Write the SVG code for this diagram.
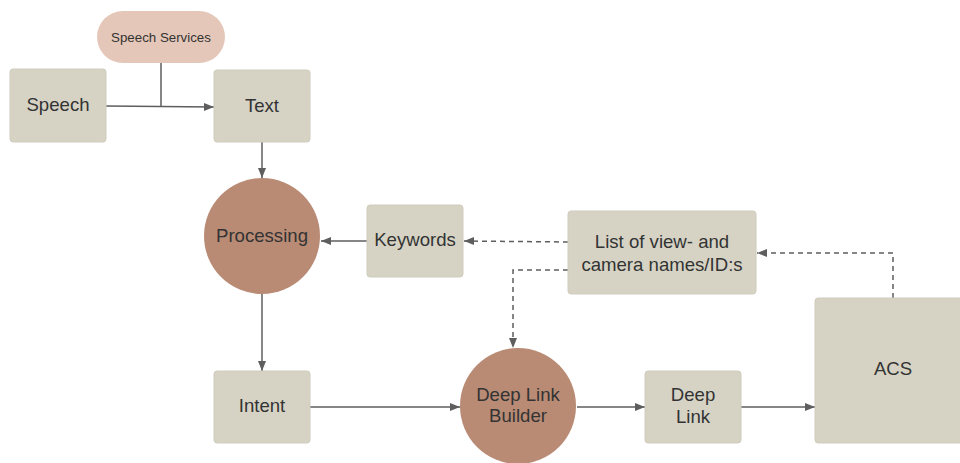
<svg xmlns="http://www.w3.org/2000/svg" width="960" height="463" viewBox="0 0 960 463">
  <defs>
    <marker id="arrow" viewBox="0 0 10 10" refX="10" refY="5" markerWidth="10" markerHeight="10" markerUnits="userSpaceOnUse" orient="auto">
      <path d="M0,1 L10,5 L0,9 Z" fill="#5e5e5e"/>
    </marker>
  </defs>
  <style>
    .box { fill: #d6d3c5; stroke: #cfccbd; stroke-width: 1; }
    .circle { fill: #b98b75; }
    .pill { fill: #e4c7b8; }
    .label { font-family: "Liberation Sans", Arial, sans-serif; font-size: 18.6px; fill: #333333; text-anchor: middle; dominant-baseline: central; }
    .small { font-size: 13.3px; }
    .edge { fill: none; stroke: #5e5e5e; stroke-width: 1.5; }
    .dashed { stroke-dasharray: 5 4; }
  </style>
  <rect width="960" height="463" fill="#ffffff"/>

  <!-- connectors -->
  <g id="connectors">
    <path class="edge" d="M106,106 L214,107" marker-end="url(#arrow)"/>
    <path class="edge" d="M161,63 L161,106"/>
    <path class="edge" d="M262,142 L262,178" marker-end="url(#arrow)"/>
    <path class="edge" d="M367,241 L321,241" marker-end="url(#arrow)"/>
    <path class="edge" d="M262,294 L262,371" marker-end="url(#arrow)"/>
    <path class="edge" d="M310,407 L460,407" marker-end="url(#arrow)"/>
    <path class="edge" d="M577,407 L645,407" marker-end="url(#arrow)"/>
    <path class="edge" d="M741,407 L815,407" marker-end="url(#arrow)"/>
    <path class="edge dashed" d="M568,242 L464,241" marker-end="url(#arrow)"/>
    <path class="edge dashed" d="M568,270 L513,270 L513,348" marker-end="url(#arrow)"/>
    <path class="edge dashed" d="M893,298 L893,253 L757,253" marker-end="url(#arrow)"/>
  </g>

  <g id="speech-services">
    <rect class="pill" x="97" y="11" width="128" height="52" rx="26"/>
    <text class="label small" x="161" y="37">Speech Services</text>
  </g>
  <g id="speech">
    <rect class="box" x="10" y="69" width="96" height="73" rx="3"/>
    <text class="label" x="58" y="104">Speech</text>
  </g>
  <g id="text">
    <rect class="box" x="214" y="70" width="96" height="72" rx="3"/>
    <text class="label" x="262" y="105">Text</text>
  </g>
  <g id="processing">
    <circle class="circle" cx="262" cy="236" r="58"/>
    <text class="label" x="262" y="235">Processing</text>
  </g>
  <g id="keywords">
    <rect class="box" x="367" y="205" width="96" height="72" rx="3"/>
    <text class="label" x="415" y="239">Keywords</text>
  </g>
  <g id="view-list">
    <rect class="box" x="568" y="211" width="188" height="83" rx="3"/>
    <text class="label" x="662" y="241">List of view- and</text>
    <text class="label" x="662" y="264">camera names/ID:s</text>
  </g>
  <g id="acs">
    <rect class="box" x="815" y="298" width="150" height="145" rx="3"/>
    <text class="label" x="893" y="368">ACS</text>
  </g>
  <g id="intent">
    <rect class="box" x="214" y="371" width="96" height="72" rx="3"/>
    <text class="label" x="262" y="405">Intent</text>
  </g>
  <g id="deep-link-builder">
    <circle class="circle" cx="518" cy="406" r="58"/>
    <text class="label" x="518" y="394">Deep Link</text>
    <text class="label" x="518" y="415">Builder</text>
  </g>
  <g id="deep-link">
    <rect class="box" x="645" y="371" width="96" height="72" rx="3"/>
    <text class="label" x="693" y="394">Deep</text>
    <text class="label" x="693" y="416">Link</text>
  </g>
</svg>
